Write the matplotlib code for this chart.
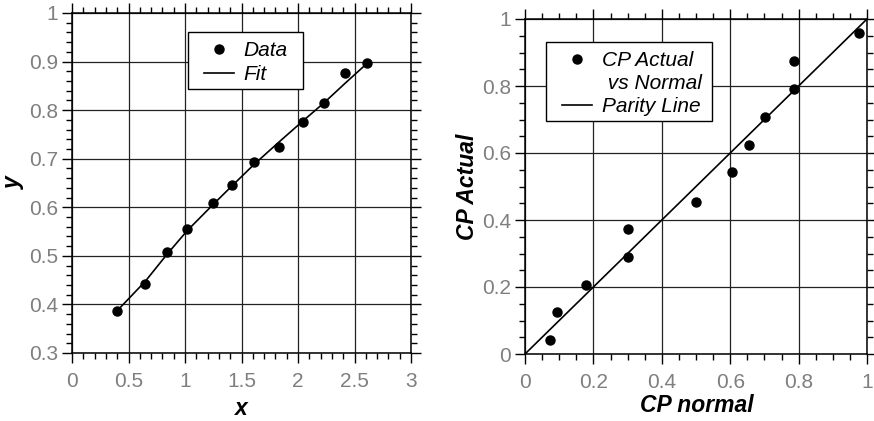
import matplotlib
matplotlib.use("Agg")
import matplotlib.pyplot as plt
from matplotlib.ticker import MultipleLocator, FuncFormatter
from matplotlib.lines import Line2D
from matplotlib.patches import Rectangle

plt.rcParams['font.family'] = ['Liberation Sans', 'DejaVu Sans']

# ---- data: left panel ----
x_data = [0.40, 0.65, 0.84, 1.02, 1.25, 1.42, 1.61, 1.83, 2.04, 2.23, 2.42, 2.61]
y_data = [0.386, 0.442, 0.508, 0.555, 0.609, 0.646, 0.693, 0.724, 0.776, 0.815, 0.876, 0.897]
x_fit = [0.40, 0.65, 0.84, 1.02, 1.25, 1.42, 1.61, 1.83, 2.04, 2.23, 2.42, 2.61]
y_fit = [0.387, 0.448, 0.503, 0.552, 0.606, 0.645, 0.688, 0.734, 0.777, 0.815, 0.856, 0.896]

# ---- data: right panel ----
cp_normal = [0.073, 0.094, 0.178, 0.300, 0.300, 0.500, 0.605, 0.655, 0.703, 0.786, 0.786, 0.976]
cp_actual = [0.043, 0.124, 0.207, 0.291, 0.374, 0.455, 0.542, 0.624, 0.708, 0.790, 0.874, 0.957]
parity_x = [0, 1]
parity_y = [0, 1]

left_xticks = [0, 0.5, 1, 1.5, 2, 2.5, 3]
left_yticks = [0.3, 0.4, 0.5, 0.6, 0.7, 0.8, 0.9, 1]
right_ticks = [0, 0.2, 0.4, 0.6, 0.8, 1]

fig = plt.figure(figsize=(8.74, 4.21), dpi=100)
axL = fig.add_axes([72/874, 1-353/421, 339/874, 340/421])
axR = fig.add_axes([525/874, 1-354/421, 342/874, 335/421])

def fmt(v, pos):
    s = f"{v:.1f}"
    if s.endswith(".0"):
        s = s[:-2]
    return s

tick_col = '#7f7f7f'
for ax in (axL, axR):
    ax.tick_params(which='both', direction='out', top=True, right=True,
                   labeltop=False, labelright=False, colors='black',
                   labelcolor=tick_col, labelsize=15, width=1.0)
    ax.tick_params(which='major', length=7)
    ax.tick_params(axis='x', which='major', pad=6.5)
    ax.tick_params(axis='y', which='major', pad=3)
    ax.tick_params(which='minor', length=4)
    ax.grid(True, which='major', color='#222222', linewidth=0.9)
    ax.set_axisbelow(True)
    for s in ax.spines.values():
        s.set_linewidth(1.1)
    ax.xaxis.set_major_formatter(FuncFormatter(fmt))
    ax.yaxis.set_major_formatter(FuncFormatter(fmt))

lab_kw = dict(fontsize=16.5, fontweight='bold', fontstyle='italic', va='center')
leg_kw = dict(loc='upper left', frameon=False, prop={'style': 'italic', 'size': 15},
              handlelength=1.45, handletextpad=0.45, borderpad=0, borderaxespad=0)
ms = 6.5

# left panel
axL.plot(x_fit, y_fit, color='black', lw=1.2, zorder=3)
axL.plot(x_data, y_data, 'o', color='black', ms=ms, zorder=4)
axL.set_xlim(0, 3)
axL.set_ylim(0.3, 1)
axL.set_xticks(left_xticks)
axL.set_yticks(left_yticks)
axL.xaxis.set_minor_locator(MultipleLocator(0.1))
axL.yaxis.set_minor_locator(MultipleLocator(0.02))
axL.set_xlabel('x', **lab_kw)
axL.set_ylabel('y', **lab_kw)
axL.xaxis.set_label_coords(0.5, -0.162)
axL.yaxis.set_label_coords(-0.172, 0.5)

axL.add_patch(Rectangle((0.342, 0.776), 0.339, 0.168, transform=axL.transAxes,
                        facecolor='white', edgecolor='black', lw=1.0, zorder=5))
hL = [Line2D([], [], ls='none', marker='o', color='black', ms=ms),
      Line2D([], [], color='black', lw=1.2)]
legL = axL.legend(hL, ['Data', 'Fit'], bbox_to_anchor=(0.389, 0.917),
                  labelspacing=0.25, **leg_kw)
legL.set_zorder(6)

# right panel
axR.plot(parity_x, parity_y, color='black', lw=1.2, zorder=3)
axR.plot(cp_normal, cp_actual, 'o', color='black', ms=ms, zorder=4)
axR.set_xlim(0, 1)
axR.set_ylim(0, 1)
axR.set_xticks(right_ticks)
axR.set_yticks(right_ticks)
axR.xaxis.set_minor_locator(MultipleLocator(0.05))
axR.yaxis.set_minor_locator(MultipleLocator(0.05))
axR.set_xlabel('CP normal', **lab_kw)
axR.set_ylabel('CP Actual', **lab_kw)
axR.xaxis.set_label_coords(0.503, -0.155)
axR.yaxis.set_label_coords(-0.167, 0.5)

axR.add_patch(Rectangle((0.0614, 0.6955), 0.4856, 0.2355, transform=axR.transAxes,
                        facecolor='white', edgecolor='black', lw=1.0, zorder=5))
hR = [Line2D([], [], ls='none', marker='o', color='black', ms=ms),
      Line2D([], [], ls='none', marker=None, color='none'),
      Line2D([], [], color='black', lw=1.2)]
legR = axR.legend(hR, ['CP Actual', ' vs Normal', 'Parity Line'],
                  bbox_to_anchor=(0.108, 0.905), labelspacing=0.2, **leg_kw)
legR.set_zorder(6)

fig.savefig('out.png', dpi=100)
